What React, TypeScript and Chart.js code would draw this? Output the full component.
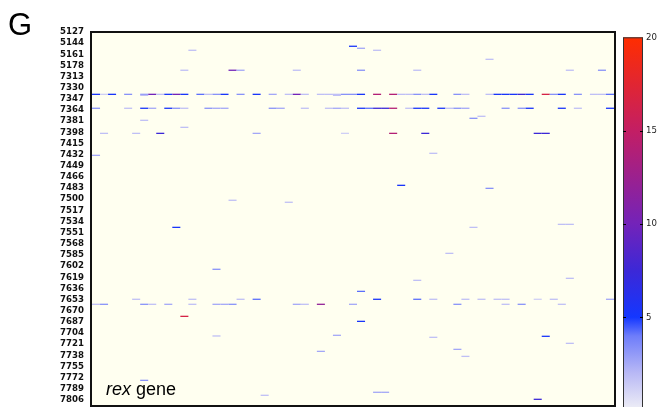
import React, { useEffect, useRef } from "react";
import { Chart, registerables } from "chart.js";

Chart.register(...registerables);

// ---- Data ----
const yLabels = [
  "5127", "5144", "5161", "5178", "7313", "7330", "7347", "7364", "7381", "7398",
  "7415", "7432", "7449", "7466", "7483", "7500", "7517", "7534", "7551", "7568",
  "7585", "7602", "7619", "7636", "7653", "7670", "7687", "7704", "7721", "7738",
  "7755", "7772", "7789", "7806",
];
const nColumns = 65;
const colorTicks = [5, 10, 15, 20];
const colorMax = 20;

// intensity levels
const VL = 1.2, L = 1.8, LM = 2.6, M = 3.3, MB = 4.2, B = 5.3, N = 7.5, P = 10, MG = 14, CR = 16.5;

// [column, row position (in label units), value]
const cells: [number, number, number][] = [
  [32, 1.28, B],
  [33, 1.46, LM],
  [12, 1.64, L], [35, 1.64, L],
  [49, 2.45, L],
  [11, 3.43, L], [17, 3.43, P], [18, 3.43, LM], [25, 3.43, L], [33, 3.43, M], [40, 3.43, L], [59, 3.43, L], [63, 3.43, M],
  [0, 5.59, B], [1, 5.59, VL], [2, 5.59, B], [4, 5.59, M], [6, 5.59, M], [7, 5.59, P], [8, 5.59, L], [9, 5.59, B],
  [10, 5.59, P], [11, 5.59, B], [13, 5.59, MB], [14, 5.59, L], [15, 5.59, M], [16, 5.59, B], [18, 5.59, M], [20, 5.59, B],
  [22, 5.59, LM], [24, 5.59, L], [25, 5.59, P], [26, 5.59, L], [28, 5.59, L], [29, 5.59, L], [30, 5.59, L], [31, 5.59, M],
  [32, 5.59, M], [33, 5.59, B], [35, 5.59, MG], [37, 5.59, MG], [38, 5.59, L], [39, 5.59, L], [40, 5.59, M], [41, 5.59, L],
  [42, 5.59, B], [45, 5.59, M], [46, 5.59, L], [49, 5.59, L], [50, 5.59, B], [51, 5.59, B], [52, 5.59, B], [53, 5.59, N],
  [54, 5.59, B], [56, 5.59, CR], [57, 5.59, M], [58, 5.59, B], [60, 5.59, M], [62, 5.59, L], [63, 5.59, L], [64, 5.59, MB],
  [6, 5.68, L], [30, 5.68, L],
  [0, 6.84, M], [4, 6.84, L], [6, 6.84, B], [7, 6.84, LM], [9, 6.84, B], [10, 6.84, M], [11, 6.84, L], [14, 6.84, M],
  [15, 6.84, LM], [16, 6.84, LM], [22, 6.84, M], [23, 6.84, LM], [26, 6.84, L], [29, 6.84, L], [30, 6.84, LM], [31, 6.84, L],
  [33, 6.84, B], [34, 6.84, MB], [35, 6.84, N], [36, 6.84, N], [37, 6.84, MG], [39, 6.84, L], [40, 6.84, B], [41, 6.84, B],
  [43, 6.84, B], [44, 6.84, L], [45, 6.84, M], [46, 6.84, LM], [51, 6.84, M], [53, 6.84, M], [54, 6.84, B], [58, 6.84, B],
  [60, 6.84, L], [64, 6.84, B],
  [48, 7.56, L],
  [47, 7.74, M],
  [6, 7.92, L],
  [11, 8.55, L],
  [1, 9.09, L], [5, 9.09, L], [8, 9.09, N], [20, 9.09, LM], [31, 9.09, VL], [37, 9.09, MG], [41, 9.09, N], [55, 9.09, N], [56, 9.09, N],
  [42, 10.88, L],
  [0, 11.06, LM],
  [38, 13.75, B],
  [49, 14.02, M],
  [17, 15.09, L],
  [24, 15.27, L],
  [58, 17.25, L], [59, 17.25, L],
  [10, 17.52, B], [47, 17.52, L],
  [44, 19.85, L],
  [15, 21.28, M],
  [59, 22.09, L],
  [40, 22.27, L],
  [33, 23.26, MB],
  [5, 23.97, L], [12, 23.97, L], [18, 23.97, L], [20, 23.97, MB], [35, 23.97, B], [40, 23.97, MB], [42, 23.97, L],
  [46, 23.97, L], [48, 23.97, L], [50, 23.97, L], [51, 23.97, L], [55, 23.97, VL], [57, 23.97, L], [64, 23.97, LM],
  [0, 24.42, L], [1, 24.42, M], [6, 24.42, M], [7, 24.42, L], [9, 24.42, LM], [12, 24.42, L], [15, 24.42, LM],
  [16, 24.42, LM], [17, 24.42, M], [25, 24.42, LM], [26, 24.42, L], [28, 24.42, 12], [32, 24.42, LM], [45, 24.42, M],
  [51, 24.42, L], [53, 24.42, M], [58, 24.42, L],
  [11, 25.5, CR],
  [33, 25.95, B],
  [30, 27.2, LM],
  [15, 27.26, L],
  [56, 27.29, B],
  [42, 27.38, L],
  [59, 27.92, L],
  [45, 28.46, LM],
  [28, 28.64, LM],
  [46, 29.09, L],
  [6, 31.24, M],
  [35, 32.31, LM], [36, 32.31, LM],
  [21, 32.58, L],
  [55, 32.94, N],
];

// ---- Colour map ----
const cmapStops: [number, number[]][] = [
  [0, [240, 240, 246]],
  [2, [185, 185, 245]],
  [4, [110, 125, 250]],
  [5, [20, 55, 255]],
  [7.5, [60, 40, 215]],
  [10, [115, 35, 185]],
  [15, [195, 30, 100]],
  [20, [255, 45, 0]],
];

function cmap(v: number): string {
  const s = cmapStops;
  if (v <= s[0][0]) return `rgb(${s[0][1].join(",")})`;
  for (let i = 1; i < s.length; i++) {
    if (v <= s[i][0]) {
      const t = (v - s[i - 1][0]) / (s[i][0] - s[i - 1][0]);
      const a = s[i - 1][1], b = s[i][1];
      const c = a.map((x, k) => Math.round(x + (b[k] - x) * t));
      return `rgb(${c.join(",")})`;
    }
  }
  return `rgb(${s[s.length - 1][1].join(",")})`;
}

const mainPlugin = {
  id: "heatFrame",
  beforeDatasetsDraw(chart: any) {
    const { ctx, chartArea: a } = chart;
    ctx.save();
    ctx.fillStyle = "#fffff0";
    ctx.fillRect(a.left, a.top, a.right - a.left, a.bottom - a.top);
    ctx.restore();
  },
  afterDraw(chart: any) {
    const { ctx, chartArea: a } = chart;
    ctx.save();
    ctx.strokeStyle = "#111";
    ctx.lineWidth = 2;
    ctx.strokeRect(a.left - 1, a.top - 1, a.right - a.left + 2, a.bottom - a.top + 2);
    // panel letter
    ctx.fillStyle = "#000";
    ctx.textBaseline = "alphabetic";
    ctx.textAlign = "left";
    ctx.font = '31px "Liberation Sans", Arial, sans-serif';
    ctx.fillText("G", 8, 35);
    // gene label
    ctx.font = 'italic 18px "Liberation Sans", Arial, sans-serif';
    const x0 = a.left + 14;
    ctx.fillText("rex", x0, 395);
    const w = ctx.measureText("rex ").width;
    ctx.font = '18px "Liberation Sans", Arial, sans-serif';
    ctx.fillText("gene", x0 + w, 395);
    ctx.restore();
  },
};

const colorbarPlugin = {
  id: "colorbar",
  beforeDraw(chart: any) {
    const { ctx, chartArea: a } = chart;
    const scale = chart.scales.y;
    ctx.save();
    const g = ctx.createLinearGradient(0, scale.getPixelForValue(0), 0, scale.getPixelForValue(colorMax));
    cmapStops.forEach(([v, c]) => g.addColorStop(v / colorMax, `rgb(${c.join(",")})`));
    ctx.fillStyle = g;
    ctx.fillRect(a.left, a.top, a.right - a.left, a.bottom - a.top);
    ctx.strokeStyle = "#333";
    ctx.lineWidth = 1;
    ctx.strokeRect(a.left + 0.5, a.top + 0.5, a.right - a.left - 1, a.bottom - a.top - 1);
    ctx.strokeStyle = "#000";
    ctx.lineWidth = 1.2;
    colorTicks.forEach((t) => {
      if (t >= colorMax) return;
      const y = Math.round(scale.getPixelForValue(t)) + 0.5;
      ctx.beginPath();
      ctx.moveTo(a.left, y);
      ctx.lineTo(a.left + 3, y);
      ctx.moveTo(a.right - 3, y);
      ctx.lineTo(a.right, y);
      ctx.stroke();
    });
    ctx.restore();
  },
};

export default function App() {
  const mainRef = useRef<HTMLCanvasElement>(null);
  const barRef = useRef<HTMLCanvasElement>(null);

  useEffect(() => {
    const main = new Chart(mainRef.current as HTMLCanvasElement, {
      type: "scatter",
      data: {
        datasets: [
          {
            data: cells.map(([c, y, v]) => ({ x: c + 0.5, y, v })) as any,
            pointStyle: "line",
            pointRadius: 4.02,
            pointHoverRadius: 4.02,
            pointBorderWidth: 1.3,
            pointBorderColor: (ctx: any) => cmap(ctx.raw ? ctx.raw.v : 0),
            pointBackgroundColor: (ctx: any) => cmap(ctx.raw ? ctx.raw.v : 0),
          },
        ],
      },
      options: {
        responsive: false,
        animation: false,
        events: [],
        layout: { autoPadding: false, padding: { left: 0, right: 52, top: 33, bottom: 2 } },
        plugins: { legend: { display: false }, tooltip: { enabled: false } },
        scales: {
          x: { type: "linear", min: 0, max: nColumns, display: false },
          y: {
            type: "linear",
            reverse: true,
            min: 0.0897,
            max: 33.45,
            afterBuildTicks: (s: any) => {
              s.ticks = yLabels.map((_, i) => ({ value: i }));
            },
            afterFit: (s: any) => {
              s.width = 92;
              s.paddingTop = 0;
              s.paddingBottom = 0;
            },
            grid: { display: false, drawTicks: false },
            border: { display: false },
            ticks: {
              autoSkip: false,
              padding: 8,
              color: "#111",
              font: { family: '"DejaVu Sans", Verdana, sans-serif', size: 8.6, weight: "bold" },
              callback: (_v: any, i: number) => yLabels[i],
            },
          },
        },
      },
      plugins: [mainPlugin],
    } as any);

    const bar = new Chart(barRef.current as HTMLCanvasElement, {
      type: "scatter",
      data: { datasets: [{ data: [] }] },
      options: {
        responsive: false,
        animation: false,
        events: [],
        layout: { autoPadding: false, padding: { left: 23, right: 0, top: 37.3, bottom: 5.4 } },
        plugins: { legend: { display: false }, tooltip: { enabled: false } },
        scales: {
          x: { type: "linear", display: false, min: 0, max: 1 },
          y: {
            type: "linear",
            position: "right",
            min: 0,
            max: colorMax,
            afterBuildTicks: (s: any) => {
              s.ticks = colorTicks.map((v) => ({ value: v }));
            },
            afterFit: (s: any) => {
              s.width = 23;
              s.paddingTop = 0;
              s.paddingBottom = 0;
            },
            grid: { display: false, drawTicks: false },
            border: { display: false },
            ticks: {
              padding: 3,
              color: "#222",
              font: { family: '"DejaVu Sans", Verdana, sans-serif', size: 8.6 },
            },
          },
        },
      },
      plugins: [colorbarPlugin],
    } as any);

    return () => {
      main.destroy();
      bar.destroy();
    };
  }, []);

  return (
    <div style={{ position: "absolute", left: 0, top: 0, width: 666, height: 407, overflow: "hidden", background: "#fff" }}>
      <canvas ref={mainRef} width={666} height={407} style={{ position: "absolute", left: 0, top: 0 }} />
      <canvas ref={barRef} width={66} height={416} style={{ position: "absolute", left: 600, top: 0 }} />
    </div>
  );
}
